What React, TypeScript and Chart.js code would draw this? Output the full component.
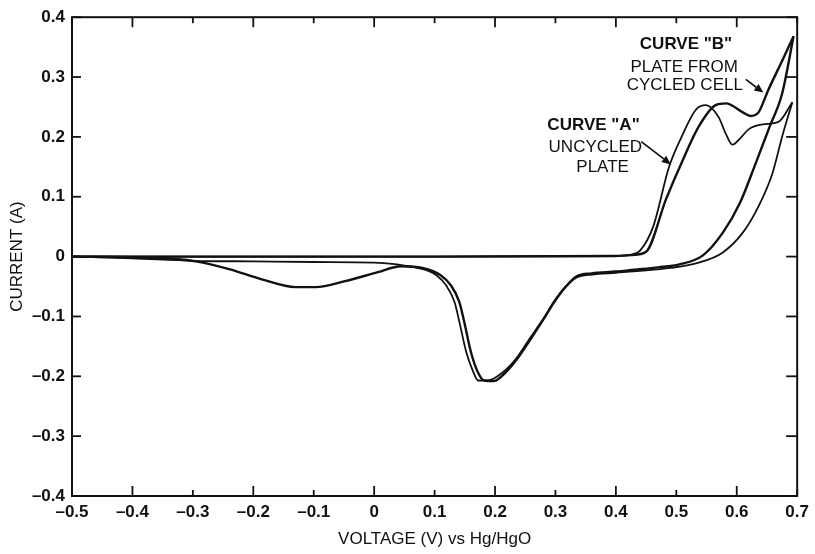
import React, { useEffect, useRef } from "react";
import { Chart, registerables } from "chart.js";

Chart.register(...registerables);

// Axis ticks
const xTickValues = [-0.5, -0.4, -0.3, -0.2, -0.1, 0, 0.1, 0.2, 0.3, 0.4, 0.5, 0.6, 0.7];
const yTickValues = [-0.4, -0.3, -0.2, -0.1, 0, 0.1, 0.2, 0.3, 0.4];

// Curve "A" (uncycled plate) - anodic sweep (V ascending)
const aForwardV = [-0.5, -0.2, 0.1, 0.4, 0.425, 0.44, 0.462, 0.488, 0.511, 0.532, 0.549, 0.57, 0.582, 0.593, 0.606, 0.62, 0.643, 0.669, 0.692];
const aForwardI = [0.0, 0.0, 0.0, 0.001, 0.003, 0.01, 0.051, 0.15, 0.205, 0.245, 0.253, 0.233, 0.205, 0.187, 0.198, 0.213, 0.221, 0.225, 0.258];
// Curve "A" - cathodic sweep (listed in ascending V)
const aReverseV = [-0.5, -0.4, -0.3, -0.2, -0.1, 0.0, 0.03, 0.05, 0.077, 0.103, 0.119, 0.133, 0.141, 0.152, 0.163, 0.172, 0.188, 0.212, 0.236, 0.258, 0.281, 0.297, 0.314, 0.335, 0.36, 0.4, 0.44, 0.49, 0.537, 0.577, 0.61, 0.636, 0.659, 0.675, 0.692];
const aReverseI = [0.0, -0.003, -0.007, -0.008, -0.009, -0.01, -0.012, -0.015, -0.02, -0.031, -0.048, -0.076, -0.109, -0.158, -0.19, -0.207, -0.207, -0.194, -0.169, -0.136, -0.102, -0.076, -0.053, -0.035, -0.03, -0.027, -0.024, -0.019, -0.01, 0.007, 0.04, 0.084, 0.139, 0.2, 0.258];

// Curve "B" (plate from cycled cell) - anodic sweep
const bForwardV = [-0.5, -0.2, 0.1, 0.4, 0.43, 0.45, 0.483, 0.511, 0.537, 0.565, 0.582, 0.61, 0.623, 0.636, 0.652, 0.675, 0.694];
const bForwardI = [0.0, 0.0, 0.0, 0.001, 0.003, 0.008, 0.096, 0.162, 0.217, 0.253, 0.256, 0.241, 0.235, 0.241, 0.278, 0.327, 0.368];
// Curve "B" - cathodic sweep (listed in ascending V)
const bReverseV = [-0.5, -0.4, -0.33, -0.295, -0.24, -0.186, -0.13, -0.097, -0.048, 0.006, 0.044, 0.08, 0.11, 0.127, 0.141, 0.149, 0.16, 0.171, 0.182, 0.198, 0.218, 0.238, 0.26, 0.282, 0.298, 0.315, 0.335, 0.36, 0.4, 0.43, 0.47, 0.505, 0.544, 0.577, 0.605, 0.631, 0.654, 0.675, 0.694];
const bReverseI = [0.0, -0.001, -0.004, -0.008, -0.021, -0.038, -0.051, -0.051, -0.041, -0.026, -0.016, -0.019, -0.031, -0.048, -0.076, -0.109, -0.159, -0.192, -0.207, -0.208, -0.193, -0.169, -0.136, -0.102, -0.076, -0.053, -0.033, -0.028, -0.025, -0.022, -0.018, -0.013, 0.002, 0.04, 0.089, 0.155, 0.216, 0.272, 0.368];

// Annotation text (anchored in data coordinates)
const noteTexts = ['CURVE "B"', "PLATE FROM", "CYCLED CELL", 'CURVE "A"', "UNCYCLED", "PLATE"];
const noteV = [0.516, 0.513, 0.514, 0.363, 0.366, 0.378];
const noteI = [0.354, 0.317, 0.286, 0.22, 0.183, 0.15];
const noteBold = [true, false, false, true, false, false];

// Arrows (from -> to, data coordinates)
const arrowFromV = [0.442, 0.615];
const arrowFromI = [0.192, 0.296];
const arrowToV = [0.491, 0.644];
const arrowToI = [0.154, 0.274];

const FONT = "'Liberation Sans', Arial, Helvetica, sans-serif";
const INK = "#111111";

function toPoints(v: number[], i: number[]) {
  return v.map((x, k) => ({ x, y: i[k] }));
}

function fmt(v: number) {
  const r = Math.round(v * 10) / 10;
  if (r === 0) return "0";
  return (r < 0 ? "\u2013" : "") + Math.abs(r).toFixed(1);
}

const framePlugin = {
  id: "frameAndNotes",
  afterDraw(chart: any) {
    const { ctx, chartArea, scales } = chart;
    const { left, right, top, bottom } = chartArea;
    const xs = scales.x;
    const ys = scales.y;
    ctx.save();
    ctx.strokeStyle = INK;
    ctx.fillStyle = INK;
    ctx.lineWidth = 2;
    ctx.strokeRect(left, top, right - left, bottom - top);
    ctx.lineWidth = 1.8;
    const seg = (x1: number, y1: number, x2: number, y2: number) => {
      ctx.beginPath();
      ctx.moveTo(x1, y1);
      ctx.lineTo(x2, y2);
      ctx.stroke();
    };
    xTickValues.forEach((v) => {
      const px = xs.getPixelForValue(v);
      const major = Math.abs(Math.round(v * 10)) % 2 === 0;
      const len = major ? 10 : 6;
      seg(px, bottom, px, bottom - len);
      seg(px, top, px, top + len);
    });
    yTickValues.forEach((v) => {
      const py = ys.getPixelForValue(v);
      seg(left, py, left + 9, py);
      seg(right, py, right - 11, py);
    });

    ctx.textAlign = "center";
    ctx.textBaseline = "middle";
    noteTexts.forEach((t, k) => {
      ctx.font = `${noteBold[k] ? "bold " : ""}17px ${FONT}`;
      ctx.fillText(t, xs.getPixelForValue(noteV[k]), ys.getPixelForValue(noteI[k]));
    });

    ctx.lineWidth = 1.7;
    arrowFromV.forEach((_, k) => {
      const x1 = xs.getPixelForValue(arrowFromV[k]);
      const y1 = ys.getPixelForValue(arrowFromI[k]);
      const x2 = xs.getPixelForValue(arrowToV[k]);
      const y2 = ys.getPixelForValue(arrowToI[k]);
      const ang = Math.atan2(y2 - y1, x2 - x1);
      const hl = 9;
      const hw = 4;
      const bx = x2 - hl * Math.cos(ang);
      const by = y2 - hl * Math.sin(ang);
      seg(x1, y1, bx, by);
      ctx.beginPath();
      ctx.moveTo(x2, y2);
      ctx.lineTo(bx + hw * Math.sin(ang), by - hw * Math.cos(ang));
      ctx.lineTo(bx - hw * Math.sin(ang), by + hw * Math.cos(ang));
      ctx.closePath();
      ctx.fill();
    });
    ctx.restore();
  },
};

export default function App() {
  const canvasRef = useRef<HTMLCanvasElement | null>(null);

  useEffect(() => {
    document.body.style.margin = "0";
    const canvas = canvasRef.current;
    if (!canvas) return;
    const lineBase = {
      pointRadius: 0,
      borderColor: INK,
      cubicInterpolationMode: "monotone" as const,
      fill: false,
    };
    const chart = new Chart(canvas, {
      type: "line",
      data: {
        datasets: [
          { ...lineBase, label: "A forward", data: toPoints(aForwardV, aForwardI), borderWidth: 1.8 },
          { ...lineBase, label: "A reverse", data: toPoints(aReverseV, aReverseI), borderWidth: 1.8 },
          { ...lineBase, label: "B forward", data: toPoints(bForwardV, bForwardI), borderWidth: 2.4 },
          { ...lineBase, label: "B reverse", data: toPoints(bReverseV, bReverseI), borderWidth: 2.4 },
        ],
      },
      options: {
        animation: false,
        responsive: false,
        maintainAspectRatio: false,
        layout: { padding: { top: 12, right: 13, left: 0, bottom: 0 } },
        plugins: { legend: { display: false }, tooltip: { enabled: false } },
        scales: {
          x: {
            type: "linear",
            min: -0.5,
            max: 0.7,
            afterBuildTicks: (s: any) => {
              s.ticks = xTickValues.map((value) => ({ value }));
            },
            afterFit: (s: any) => {
              s.height = 58;
            },
            grid: { display: false, drawTicks: false },
            border: { display: false },
            ticks: {
              color: INK,
              padding: 6,
              maxRotation: 0,
              autoSkip: false,
              font: { family: FONT, size: 17, weight: "bold" },
              callback: (v: any) => fmt(Number(v)),
            },
            title: {
              display: true,
              text: "VOLTAGE (V) vs Hg/HgO",
              color: INK,
              font: { family: FONT, size: 17 },
              padding: { top: 0, bottom: 4 },
            },
          },
          y: {
            type: "linear",
            min: -0.4,
            max: 0.4,
            afterBuildTicks: (s: any) => {
              s.ticks = yTickValues.map((value) => ({ value }));
            },
            afterFit: (s: any) => {
              s.width = 72;
            },
            grid: { display: false, drawTicks: false },
            border: { display: false },
            ticks: {
              color: INK,
              padding: 7,
              autoSkip: false,
              font: { family: FONT, size: 17, weight: "bold" },
              callback: (v: any) => fmt(Number(v)),
            },
            title: {
              display: true,
              text: "CURRENT (A)",
              color: INK,
              font: { family: FONT, size: 17 },
              padding: { top: 7, bottom: 0 },
            },
          },
        },
      },
      plugins: [framePlugin],
    });
    return () => chart.destroy();
  }, []);

  return (
    <div style={{ width: 815, height: 554, background: "#fff" }}>
      <canvas ref={canvasRef} width={815} height={554} style={{ display: "block" }} />
    </div>
  );
}
